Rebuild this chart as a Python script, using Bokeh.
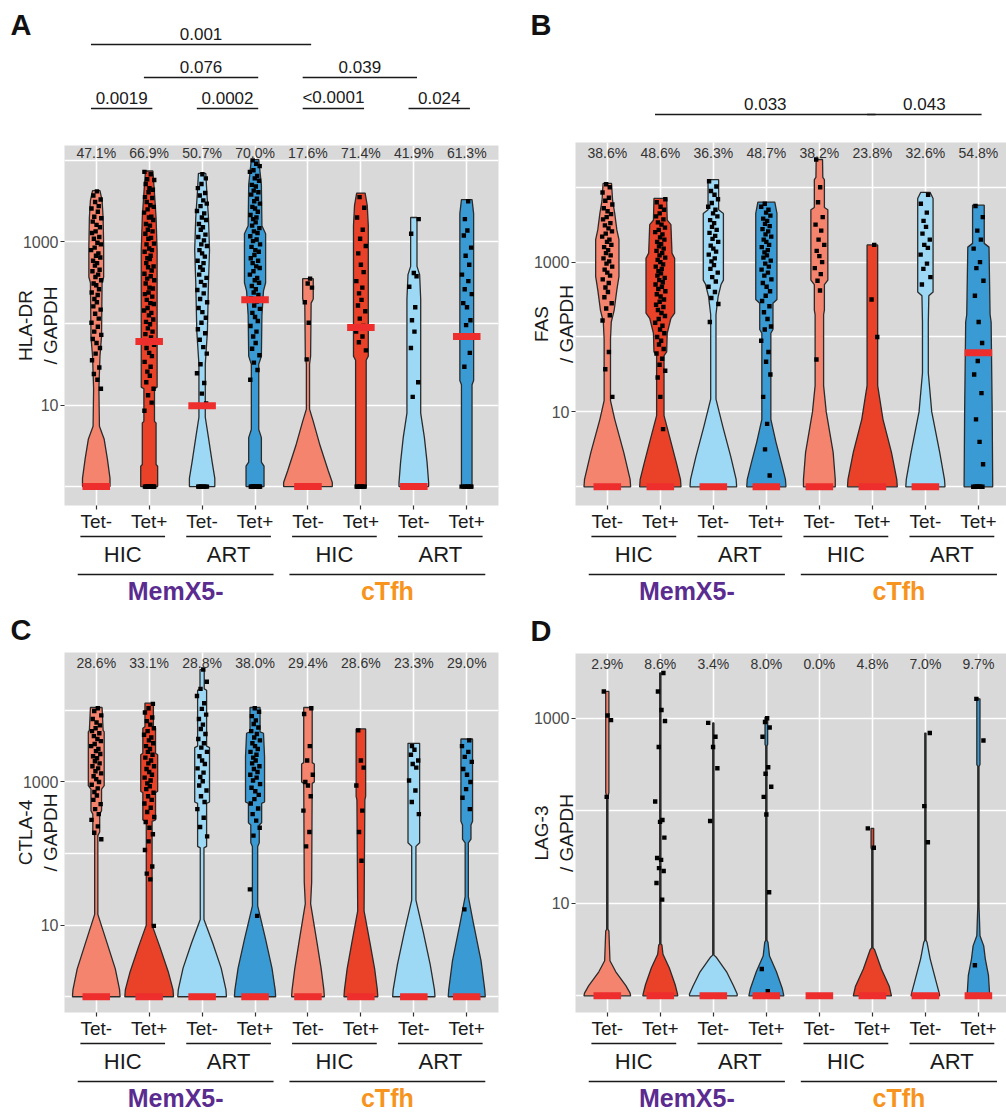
from bokeh.plotting import figure
from bokeh.layouts import column, row
from bokeh.models import Range1d, FixedTicker, PrintfTickFormatter
from bokeh.embed import file_html
from bokeh.resources import INLINE
from bokeh.core.properties import value

# ======================= DATA =======================
CATEGORIES = [1, 2, 3, 4, 5, 6, 7, 8]
TET_LABELS = ["Tet-", "Tet+", "Tet-", "Tet+", "Tet-", "Tet+", "Tet-", "Tet+"]
COHORT_LABELS = ["HIC", "ART", "HIC", "ART"]
COHORT_FIRST = [1, 3, 5, 7]
COHORT_LAST = [2, 4, 6, 8]
SUBSET_LABELS = ["MemX5-", "cTfh"]
SUBSET_FIRST = [1, 5]
SUBSET_LAST = [4, 8]
PANEL_LETTERS = ["A", "B", "C", "D"]
MARKERS = ["HLA-DR", "FAS", "CTLA-4", "LAG-3"]

# percentage of expressing cells per category
pct_hla = ["47.1%", "66.9%", "50.7%", "70.0%", "17.6%", "71.4%", "41.9%", "61.3%"]
pct_fas = ["38.6%", "48.6%", "36.3%", "48.7%", "38.2%", "23.8%", "32.6%", "54.8%"]
pct_ctla = ["28.6%", "33.1%", "28.8%", "38.0%", "29.4%", "28.6%", "23.3%", "29.0%"]
pct_lag = ["2.9%", "8.6%", "3.4%", "8.0%", "0.0%", "4.8%", "7.0%", "9.7%"]

# medians, log10(expression + 1)
med_hla = [0, 1.78, 0.99, 2.29, 0, 1.95, 0, 1.84]
med_fas = [0, 0, 0, 0, 0, 0, 0, 1.79]
med_ctla = [0, 0, 0, 0, 0, 0, 0, 0]
med_lag = [0, 0, 0, 0, 0, 0, 0, 0]

# violin outlines: levels (log10(expr+1)) and density half-widths (category units)
hla_levels = [
    [3.63, 3.51, 3.3, 2.94, 2.57, 2.5, 1.84, 1.6, 1.2, 0.74, 0.58, 0.34, 0.1, 0],
    [3.87, 3.6, 3.3, 2.9, 1.22, 1.2, 0.8, 0.78, 0.27, 0.25, 0],
    [3.84, 3.6, 3.3, 2.9, 2.5, 1.9, 1.5, 0.85, 0.6, 0.3, 0.1, 0],
    [4.01, 3.7, 3.2, 3.1, 2.5, 2.4, 2.1, 1.6, 1.5, 0.7, 0.6, 0.3, 0.25, 0],
    [2.55, 2.3, 2.25, 1.6, 1.5, 0.95, 0.8, 0.5, 0.2, 0.05, 0],
    [3.6, 3.45, 3.2, 1.6, 1.55, 0],
    [3.3, 2.7, 2.6, 2.3, 0.9, 0.6, 0.3, 0.05, 0],
    [3.52, 3.35, 1.3, 1.25, 0],
]
hla_widths = [
    [0.07, 0.11, 0.13, 0.14, 0.14, 0.11, 0.1, 0.07, 0.05, 0.06, 0.15, 0.21, 0.26, 0.26],
    [0.07, 0.1, 0.13, 0.15, 0.15, 0.1, 0.1, 0.13, 0.13, 0.16, 0.16],
    [0.07, 0.09, 0.12, 0.14, 0.12, 0.1, 0.06, 0.06, 0.12, 0.19, 0.24, 0.24],
    [0.07, 0.12, 0.13, 0.2, 0.2, 0.16, 0.13, 0.12, 0.07, 0.07, 0.12, 0.12, 0.17, 0.17],
    [0.1, 0.1, 0.06, 0.05, 0.03, 0.03, 0.1, 0.23, 0.38, 0.46, 0.46],
    [0.08, 0.12, 0.14, 0.14, 0.1, 0.1],
    [0.06, 0.06, 0.11, 0.13, 0.13, 0.2, 0.25, 0.28, 0.28],
    [0.1, 0.13, 0.13, 0.1, 0.1],
]
fas_levels = [
    [4.05, 3.82, 3.65, 3.43, 3.3, 2.81, 2.63, 2.36, 2.2, 1.97, 1.15, 0.9, 0.46, 0.1, 0],
    [3.85, 3.56, 3.5, 3.12, 3.05, 2.32, 2.25, 2.05, 1.8, 1.75, 0.95, 0.6, 0.3, 0.1, 0],
    [4.1, 3.7, 3.65, 2.76, 2.7, 2.54, 2.3, 1.17, 0.8, 0.4, 0.1, 0],
    [3.8, 3.65, 2.5, 2.45, 2.1, 2.05, 0.9, 0.6, 0.3, 0.1, 0],
    [4.37, 4.13, 4.1, 3.73, 3.7, 2.76, 2.7, 2.36, 2.3, 1.35, 1.0, 0.46, 0.1, 0],
    [3.23, 1.35, 0.9, 0.46, 0.1, 0],
    [3.93, 3.85, 2.6, 2.55, 2.2, 1.52, 1.0, 0.46, 0.1, 0],
    [3.76, 3.25, 3.2, 2.3, 2.2, 1.0, 0],
]
fas_widths = [
    [0.08, 0.1, 0.14, 0.18, 0.22, 0.22, 0.18, 0.13, 0.075, 0.06, 0.06, 0.14, 0.31, 0.43, 0.44],
    [0.12, 0.13, 0.2, 0.22, 0.27, 0.27, 0.2, 0.13, 0.12, 0.07, 0.07, 0.2, 0.31, 0.38, 0.39],
    [0.1, 0.1, 0.19, 0.19, 0.145, 0.09, 0.05, 0.05, 0.18, 0.33, 0.43, 0.44],
    [0.16, 0.2, 0.2, 0.125, 0.125, 0.085, 0.085, 0.18, 0.29, 0.36, 0.37],
    [0.06, 0.065, 0.095, 0.095, 0.16, 0.16, 0.095, 0.095, 0.08, 0.08, 0.13, 0.26, 0.3, 0.3],
    [0.1, 0.1, 0.2, 0.36, 0.46, 0.47],
    [0.09, 0.145, 0.145, 0.065, 0.055, 0.055, 0.12, 0.27, 0.36, 0.37],
    [0.11, 0.11, 0.2, 0.22, 0.24, 0.26, 0.27],
]
ctla_levels = [
    [4.04, 3.72, 3.7, 2.95, 2.9, 2.6, 2.55, 2.3, 2.25, 1.15, 0.76, 0.39, 0.1, 0],
    [4.1, 3.77, 3.75, 3.4, 3.38, 2.87, 2.85, 2.47, 2.45, 1.0, 0.7, 0.35, 0.1, 0],
    [4.57, 4.3, 4.28, 3.5, 3.48, 2.72, 2.7, 2.1, 2.08, 1.08, 0.75, 0.4, 0.1, 0],
    [4.04, 3.7, 3.68, 3.35, 2.72, 2.7, 2.43, 2.4, 2.15, 2.1, 1.27, 0.8, 0.4, 0.1, 0],
    [4.04, 3.27, 3.25, 3.0, 2.98, 1.6, 1.3, 0.76, 0.39, 0.1, 0],
    [3.74, 2.8, 2.75, 1.2, 0.76, 0.39, 0.1, 0],
    [3.54, 2.15, 2.1, 1.35, 0.9, 0.45, 0.1, 0],
    [3.6, 2.45, 2.4, 2.2, 2.15, 1.4, 1.05, 0.5, 0.1, 0],
]
ctla_widths = [
    [0.11, 0.13, 0.15, 0.15, 0.1, 0.1, 0.065, 0.065, 0.03, 0.03, 0.2, 0.36, 0.44, 0.45],
    [0.08, 0.08, 0.12, 0.12, 0.16, 0.16, 0.12, 0.12, 0.055, 0.055, 0.2, 0.36, 0.45, 0.46],
    [0.04, 0.04, 0.085, 0.085, 0.14, 0.14, 0.085, 0.085, 0.035, 0.035, 0.2, 0.36, 0.45, 0.46],
    [0.095, 0.095, 0.16, 0.18, 0.18, 0.125, 0.125, 0.08, 0.08, 0.05, 0.05, 0.2, 0.32, 0.38, 0.39],
    [0.08, 0.08, 0.12, 0.12, 0.08, 0.07, 0.05, 0.17, 0.25, 0.3, 0.31],
    [0.09, 0.09, 0.075, 0.06, 0.17, 0.26, 0.31, 0.32],
    [0.11, 0.11, 0.04, 0.04, 0.18, 0.31, 0.39, 0.4],
    [0.11, 0.11, 0.08, 0.08, 0.03, 0.03, 0.12, 0.27, 0.34, 0.35],
]
lag_levels = [
    [3.29, 2.2, 2.15, 0.72, 0.7, 0.38, 0.26, 0.11, 0.03, 0],
    [3.49, 0.56, 0.55, 0.45, 0.3, 0.12, 0.03, 0],
    [2.95, 0.44, 0.42, 0.26, 0.11, 0.02, 0],
    [3.01, 2.72, 2.7, 0.6, 0.58, 0.43, 0.26, 0.08, 0],
    [],
    [1.81, 1.6, 1.58, 0.52, 0.5, 0.29, 0.1, 0],
    [2.84, 0.6, 0.58, 0.4, 0.18, 0.03, 0],
    [3.21, 2.5, 2.48, 0.96, 0.65, 0.54, 0.4, 0.22, 0.03, 0],
]
lag_widths = [
    [0.03, 0.03, 0.012, 0.012, 0.03, 0.05, 0.16, 0.35, 0.43, 0.44],
    [0.012, 0.012, 0.03, 0.05, 0.17, 0.28, 0.32, 0.33],
    [0.012, 0.012, 0.05, 0.25, 0.38, 0.45, 0.45],
    [0.025, 0.025, 0.012, 0.012, 0.03, 0.06, 0.19, 0.3, 0.33],
    [],
    [0.025, 0.025, 0.012, 0.012, 0.04, 0.17, 0.32, 0.36],
    [0.012, 0.012, 0.03, 0.09, 0.19, 0.26, 0.27],
    [0.03, 0.03, 0.012, 0.012, 0.03, 0.1, 0.13, 0.19, 0.21, 0.21],
]

# single cells, log10(expr + 1)
hla_points = [
    [3.62, 3.57, 3.52, 3.49, 3.44, 3.41, 3.37, 3.31, 3.29, 3.25, 3.21, 3.18, 3.13, 3.11, 3.06, 3.04,
     2.99, 2.97, 2.93, 2.9, 2.86, 2.83, 2.81, 2.77, 2.74, 2.71, 2.66, 2.64, 2.6, 2.57, 2.53, 2.49,
     2.47, 2.42, 2.38, 2.35, 2.3, 2.26, 2.21, 2.17, 2.12, 2.06, 2.01, 1.96, 1.9, 1.86, 1.81, 1.76,
     1.7, 1.63, 1.55, 1.46, 1.38, 1.31, 1.2, 0, 0, 0, 0, 0, 0],
    [3.86, 3.83, 3.77, 3.76, 3.71, 3.66, 3.64, 3.61, 3.55, 3.54, 3.49, 3.45, 3.43, 3.4, 3.36, 3.31,
     3.3, 3.27, 3.22, 3.2, 3.15, 3.13, 3.1, 3.05, 3.04, 2.98, 2.97, 2.92, 2.9, 2.88, 2.83, 2.8,
     2.79, 2.74, 2.7, 2.69, 2.65, 2.61, 2.58, 2.55, 2.53, 2.49, 2.44, 2.43, 2.38, 2.36, 2.33, 2.29,
     2.25, 2.24, 2.19, 2.16, 2.13, 2.1, 2.05, 2.02, 1.99, 1.94, 1.9, 1.87, 1.83, 1.78, 1.74, 1.7,
     1.64, 1.6, 1.53, 1.47, 1.41, 1.36, 1.28, 1.2, 1.12, 1.03, 0.93,
     0, 0, 0, 0, 0, 0, 0, 0, 0, 0, 0, 0],
    [3.83, 3.78, 3.71, 3.66, 3.6, 3.57, 3.51, 3.47, 3.44, 3.38, 3.35, 3.3, 3.27, 3.22, 3.18, 3.15,
     3.09, 3.06, 3.02, 2.97, 2.95, 2.9, 2.86, 2.82, 2.77, 2.74, 2.69, 2.66, 2.6, 2.56, 2.51, 2.47,
     2.41, 2.37, 2.3, 2.26, 2.19, 2.14, 2.07, 2.01, 1.93, 1.88, 1.8, 1.71, 1.63, 1.5, 1.39, 1.27,
     1.14, 1.02, 0, 0, 0, 0, 0, 0, 0, 0],
    [4.0, 3.96, 3.93, 3.88, 3.86, 3.81, 3.78, 3.75, 3.7, 3.68, 3.63, 3.61, 3.58, 3.53, 3.5, 3.47,
     3.43, 3.41, 3.37, 3.33, 3.3, 3.28, 3.24, 3.2, 3.17, 3.13, 3.11, 3.07, 3.03, 3.01, 2.97, 2.94,
     2.9, 2.88, 2.84, 2.8, 2.77, 2.74, 2.7, 2.68, 2.64, 2.6, 2.56, 2.53, 2.5, 2.46, 2.42, 2.38,
     2.35, 2.31, 2.27, 2.22, 2.18, 2.13, 2.08, 2.03, 1.97, 1.9, 1.84, 1.76, 1.69, 1.61, 1.52, 1.43,
     1.31, 0, 0, 0, 0, 0, 0, 0, 0, 0, 0, 0, 0],
    [2.55, 2.49, 2.44, 2.26, 2.01, 1.56, 0, 0],
    [3.55, 3.42, 3.3, 3.15, 3.04, 2.95, 2.86, 2.72, 2.63, 2.52, 2.44, 2.37, 2.29, 2.22, 2.15, 2.06,
     1.97, 1.9, 1.84, 1.77, 1.67, 0, 0, 0, 0, 0, 0, 0, 0],
    [3.28, 3.1, 2.62, 2.58, 2.45, 2.2, 2.04, 1.9, 1.7, 1.28, 1.1, 0, 0, 0, 0, 0, 0],
    [3.5, 3.28, 3.14, 3.08, 2.93, 2.83, 2.72, 2.6, 2.52, 2.42, 2.36, 2.25, 2.2, 2.04, 1.98, 1.85,
     1.64, 1.47, 0, 0, 0, 0, 0, 0, 0, 0],
]
fas_points = [
    [4.04, 4.0, 3.93, 3.86, 3.82, 3.77, 3.72, 3.68, 3.64, 3.6, 3.57, 3.52, 3.49, 3.45, 3.41, 3.38,
     3.34, 3.3, 3.27, 3.23, 3.2, 3.16, 3.12, 3.09, 3.05, 3.01, 2.98, 2.94, 2.9, 2.86, 2.82, 2.77,
     2.72, 2.66, 2.6, 2.53, 2.45, 2.38, 2.29, 2.22, 1.8, 1.57, 1.2, 0, 0, 0, 0, 0],
    [3.84, 3.8, 3.74, 3.7, 3.65, 3.61, 3.57, 3.53, 3.5, 3.46, 3.43, 3.4, 3.37, 3.33, 3.3, 3.27,
     3.24, 3.21, 3.18, 3.15, 3.12, 3.09, 3.06, 3.03, 3.0, 2.97, 2.94, 2.91, 2.88, 2.85, 2.82, 2.79,
     2.76, 2.73, 2.7, 2.67, 2.64, 2.61, 2.57, 2.54, 2.5, 2.47, 2.43, 2.4, 2.36, 2.32, 2.28, 2.24,
     2.19, 2.15, 2.1, 2.05, 2.0, 1.95, 1.9, 1.84, 1.78, 1.71, 1.63, 1.55, 1.46, 1.2, 0.77,
     0, 0, 0, 0, 0, 0],
    [4.08, 4.01, 3.95, 3.9, 3.84, 3.79, 3.74, 3.7, 3.65, 3.61, 3.56, 3.52, 3.47, 3.43, 3.39, 3.35,
     3.31, 3.27, 3.22, 3.18, 3.14, 3.1, 3.05, 3.01, 2.96, 2.91, 2.86, 2.8, 2.74, 2.67, 2.6, 2.52,
     2.44, 2.2, 0, 0, 0, 0, 0],
    [3.78, 3.74, 3.7, 3.66, 3.62, 3.58, 3.55, 3.51, 3.48, 3.44, 3.41, 3.37, 3.34, 3.3, 3.27, 3.23,
     3.2, 3.16, 3.13, 3.09, 3.06, 3.02, 2.98, 2.94, 2.9, 2.86, 2.82, 2.77, 2.72, 2.67, 2.61, 2.55,
     2.48, 2.41, 2.33, 2.24, 2.14, 2.1, 1.95, 1.8, 1.67, 1.5, 1.2, 0.84, 0.5, 0.15,
     0, 0, 0, 0, 0, 0, 0, 0],
    [4.37, 4.0, 3.8, 3.6, 3.5, 3.42, 3.3, 3.23, 3.15, 3.08, 3.0, 2.92, 2.84, 2.75, 2.62, 1.7,
     0, 0, 0, 0],
    [3.23, 2.5, 2.0, 0, 0, 0, 0],
    [3.9, 3.78, 3.66, 3.55, 3.47, 3.38, 3.3, 3.23, 3.19, 3.1, 2.98, 2.91, 2.8, 2.7, 0, 0, 0, 0],
    [3.75, 3.6, 3.42, 3.3, 3.18, 3.0, 2.92, 2.75, 2.55, 2.2, 1.92, 1.68, 1.5, 1.25, 0.9, 0.6, 0.3,
     0, 0, 0, 0, 0, 0, 0, 0],
]
ctla_points = [
    [4.03, 3.99, 3.93, 3.88, 3.83, 3.79, 3.75, 3.71, 3.68, 3.64, 3.6, 3.57, 3.53, 3.5, 3.46, 3.43,
     3.39, 3.36, 3.33, 3.29, 3.26, 3.22, 3.19, 3.15, 3.12, 3.08, 3.04, 3.0, 2.96, 2.91, 2.86, 2.81,
     2.75, 2.69, 2.62, 2.55, 2.47, 2.38, 2.29, 2.2, 0, 0, 0, 0, 0],
    [4.09, 4.03, 3.97, 3.9, 3.85, 3.8, 3.75, 3.71, 3.66, 3.62, 3.58, 3.54, 3.5, 3.46, 3.42, 3.38,
     3.34, 3.3, 3.26, 3.22, 3.18, 3.14, 3.1, 3.06, 3.02, 2.98, 2.94, 2.9, 2.85, 2.8, 2.75, 2.7,
     2.64, 2.58, 2.51, 2.44, 2.36, 2.27, 2.17, 2.05, 1.82, 1.72, 1.64, 0.99, 0, 0, 0, 0, 0, 0],
    [4.57, 4.4, 4.3, 4.2, 4.1, 4.02, 3.94, 3.88, 3.8, 3.74, 3.67, 3.6, 3.54, 3.48, 3.42, 3.36,
     3.3, 3.25, 3.19, 3.13, 3.07, 3.01, 2.95, 2.88, 2.8, 2.72, 2.62, 2.5, 2.37, 2.24, 0, 0, 0, 0, 0],
    [4.03, 3.98, 3.92, 3.86, 3.81, 3.76, 3.71, 3.67, 3.62, 3.58, 3.54, 3.5, 3.46, 3.42, 3.38, 3.34,
     3.3, 3.26, 3.22, 3.18, 3.14, 3.1, 3.06, 3.02, 2.97, 2.92, 2.87, 2.82, 2.76, 2.7, 2.63, 2.55,
     2.46, 2.36, 2.25, 1.5, 1.13, 0, 0, 0, 0, 0, 0],
    [4.03, 3.95, 3.5, 3.3, 3.1, 3.0, 2.95, 2.8, 2.6, 2.3, 2.1, 0, 0, 0, 0],
    [3.72, 3.3, 3.2, 2.95, 2.6, 2.3, 1.9, 0, 0, 0],
    [3.5, 3.45, 3.38, 3.3, 3.25, 3.2, 3.02, 2.88, 2.72, 2.55, 0, 0, 0],
    [3.58, 3.5, 3.42, 3.35, 3.28, 3.18, 3.1, 3.0, 2.9, 2.78, 2.62, 1.22, 0, 0, 0],
]
lag_points = [
    [3.29, 3.03, 2.98, 2.15, 0, 0, 0, 0],
    [3.49, 3.29, 3.09, 2.97, 2.69, 2.1, 1.9, 1.88, 1.71, 1.49, 1.47, 1.38, 1.35, 1.22, 1.04,
     0, 0, 0, 0],
    [2.95, 2.8, 2.69, 2.46, 1.89, 0, 0, 0],
    [3.0, 2.96, 2.9, 2.8, 2.47, 2.4, 2.26, 2.15, 1.96, 1.12, 0.29, 0.05, 0, 0, 0],
    [0, 0, 0],
    [1.81, 1.6, 0, 0, 0],
    [2.84, 2.05, 1.66, 0, 0, 0],
    [3.21, 2.76, 0.33, 0, 0, 0],
]

# pairwise comparisons: (category i, category j, p-value label, tier)
cmp_hla = [(1, 5, "0.001", 3), (2, 4, "0.076", 2), (5, 7, "0.039", 2),
           (1, 2, "0.0019", 1), (3, 4, "0.0002", 1), (5, 6, "<0.0001", 1), (7, 8, "0.024", 1)]
cmp_fas = [(2, 6, "0.033", 1), (6, 8, "0.043", 1)]
cmp_ctla = []
cmp_lag = []

PANEL_DATA = [
    (pct_hla, med_hla, hla_levels, hla_widths, hla_points, cmp_hla),
    (pct_fas, med_fas, fas_levels, fas_widths, fas_points, cmp_fas),
    (pct_ctla, med_ctla, ctla_levels, ctla_widths, ctla_points, cmp_ctla),
    (pct_lag, med_lag, lag_levels, lag_widths, lag_points, cmp_lag),
]

# ======================= STYLE / LAYOUT =======================
FONT = "Liberation Sans"
FILLS = ["#f4846e", "#ea4129", "#9dd8f5", "#3a9ad4"] * 2
OUTLINE = "#2b2b2b"
MED_COLOR = "#ee2d2d"
PANEL_BG = "#d9d9d9"
SUBSET_COLORS = ["#5b2c8f", "#f7941d"]
JITTER = [0.12, -0.55, 0.83, -0.21, 0.47, -0.9, 0.3, -0.38, 0.95, -0.66, 0.05, 0.7, -0.12,
          -0.8, 0.58, -0.45, 0.22, 0.88, -0.3, -0.97, 0.4, -0.05, 0.76, -0.6, 0.15, -0.25,
          0.63, -0.72, 0.35, -0.15, 0.92, -0.5, 0.0, 0.52, -0.86, 0.27, -0.35]
JIT_AMP = 0.1
X_START = 0.4
AXIS_H = 27

PANEL_CFG = [
    dict(col_w=500, left=64, frame_w=434, x_end=8.6, top_h=145, frame_h=362,
         ylo=-0.232, yhi=4.183, group_h=76, pct_off=7, tiers={1: 108, 2: 77, 3: 44},
         ylab_standoff=-41, letter_gap=27, letter_y=24),
    dict(col_w=506, left=75, frame_w=431, x_end=8.53, top_h=142, frame_h=365,
         ylo=-0.25, yhi=4.597, group_h=76, pct_off=10, tiers={1: 114},
         ylab_standoff=-46, letter_gap=18, letter_y=24),
    dict(col_w=500, left=64, frame_w=434, x_end=8.6, top_h=42, frame_h=362,
         ylo=-0.22, yhi=4.808, group_h=71, pct_off=10, tiers={},
         ylab_standoff=-41, letter_gap=27, letter_y=19),
    dict(col_w=506, left=75, frame_w=431, x_end=8.53, top_h=43, frame_h=361,
         ylo=-0.18, yhi=3.70, group_h=71, pct_off=10, tiers={},
         ylab_standoff=-46, letter_gap=18, letter_y=20),
]


def bare_fig(w, h, xr, yr, left=0, right=0, yaxis=None):
    f = figure(width=w, height=h, x_range=xr, y_range=yr, toolbar_location=None,
               output_backend="svg", x_axis_location=None, y_axis_location=yaxis,
               min_border_left=left, min_border_right=right,
               min_border_top=0, min_border_bottom=0)
    f.grid.visible = False
    f.outline_line_color = None
    f.background_fill_color = "white"
    f.border_fill_color = "white"
    return f


def make_panel(k):
    cfg = PANEL_CFG[k]
    pct, med, levels, widths, points, cmps = PANEL_DATA[k]
    right = cfg["col_w"] - cfg["left"] - cfg["frame_w"]
    xr = Range1d(X_START, cfg["x_end"])

    # ---------- top strip: panel letter (as the strip's single axis label) + brackets ----------
    top = bare_fig(cfg["col_w"], cfg["top_h"], xr, Range1d(cfg["top_h"], 0),
                   left=cfg["left"], right=right, yaxis="left")
    lax = top.yaxis[0]
    lax.ticker = FixedTicker(ticks=[cfg["letter_y"]])
    lax.major_label_overrides = {cfg["letter_y"]: PANEL_LETTERS[k]}
    lax.axis_line_color = None
    lax.major_tick_line_color = None
    lax.minor_tick_line_color = None
    lax.major_label_standoff = cfg["letter_gap"]
    lax.major_label_text_font = FONT
    lax.major_label_text_font_size = "29px"
    lax.major_label_text_font_style = "bold"
    lax.major_label_text_color = "#111111"
    if cmps:
        x0 = [c[0] - 0.1 for c in cmps]
        x1 = [c[1] + 0.06 for c in cmps]
        yl = [cfg["tiers"][c[3]] for c in cmps]
        top.segment(x0=x0, y0=yl, x1=x1, y1=yl, line_color="#1a1a1a", line_width=1.4)
        top.text(x=[(a + b) / 2 for a, b in zip(x0, x1)], y=[v - 11 for v in yl],
                 text=[c[2] for c in cmps], text_font=value(FONT), text_font_size="17px",
                 text_align="center", text_baseline="middle", text_color="#1a1a1a")

    # ---------- main violin panel ----------
    p = figure(width=cfg["col_w"], height=cfg["frame_h"] + AXIS_H, x_range=xr,
               y_range=Range1d(10 ** cfg["ylo"], 10 ** cfg["yhi"]), y_axis_type="log",
               toolbar_location=None, output_backend="svg",
               min_border_left=cfg["left"], min_border_right=right,
               min_border_top=0, min_border_bottom=AXIS_H)
    p.background_fill_color = PANEL_BG
    p.border_fill_color = "white"
    p.outline_line_color = None

    yt = FixedTicker(ticks=[10, 1000], minor_ticks=[1, 100, 10000])
    p.yaxis.ticker = yt
    p.ygrid.ticker = yt
    p.yaxis.formatter = PrintfTickFormatter(format="%d")
    p.ygrid.grid_line_color = "white"
    p.ygrid.grid_line_width = 1.6
    p.ygrid.minor_grid_line_color = "white"
    p.ygrid.minor_grid_line_width = 1.6
    p.xaxis.ticker = FixedTicker(ticks=CATEGORIES)
    p.xgrid.ticker = FixedTicker(ticks=CATEGORIES)
    p.xgrid.grid_line_color = "white"
    p.xgrid.grid_line_width = 1.6
    p.xaxis.major_label_overrides = {c: t for c, t in zip(CATEGORIES, TET_LABELS)}

    for ax in (p.xaxis[0], p.yaxis[0]):
        ax.axis_line_color = None
        ax.major_tick_line_color = "#333333"
        ax.major_tick_line_width = 1.2
        ax.major_tick_out = 4
        ax.major_tick_in = 0
        ax.minor_tick_line_color = None
        ax.major_label_text_font = FONT
    p.xaxis.major_label_text_font_size = "19px"
    p.xaxis.major_label_text_color = "#1a1a1a"
    p.xaxis.major_label_standoff = 1
    p.yaxis.major_label_text_font_size = "16px"
    p.yaxis.major_label_text_color = "#4d4d4d"
    p.yaxis.major_label_standoff = 2
    p.yaxis.axis_label = MARKERS[k] + "\n/ GAPDH"
    p.yaxis.axis_label_text_font = FONT
    p.yaxis.axis_label_text_font_size = "19px"
    p.yaxis.axis_label_text_font_style = "normal"
    p.yaxis.axis_label_text_color = "#1a1a1a"
    p.yaxis.axis_label_standoff = cfg["ylab_standoff"]

    # violins
    vx, vy, vc = [], [], []
    for i, c in enumerate(CATEGORIES):
        lv, hw = levels[i], widths[i]
        if not lv:
            continue
        up_l = list(reversed(lv))
        up_w = list(reversed(hw))
        xs = [c - w for w in up_w] + [c + w for w in reversed(up_w)]
        ys = [10 ** v for v in up_l] + [10 ** v for v in reversed(up_l)]
        vx.append(xs)
        vy.append(ys)
        vc.append(FILLS[i])
    p.patches(vx, vy, fill_color=vc, line_color=OUTLINE, line_width=1.3)

    # jittered cells
    px, py = [], []
    for i, c in enumerate(CATEGORIES):
        for j, v in enumerate(points[i]):
            px.append(c + JIT_AMP * JITTER[(j + 5 * i + 3 * k) % len(JITTER)])
            py.append(10 ** v)
    p.scatter(px, py, marker="square", size=4.4, fill_color="black", line_color=None)

    # medians
    p.rect(x=CATEGORIES, y=[10 ** m for m in med], width=0.52, height=7,
           height_units="screen", fill_color=MED_COLOR, line_color=None)

    # percentages
    p.text(x=CATEGORIES, y=[10 ** cfg["yhi"]] * 8, text=pct, y_offset=cfg["pct_off"],
           text_font=value(FONT), text_font_size="14px", text_align="center",
           text_baseline="middle", text_color="#333333")

    # ---------- group labels below ----------
    gh = cfg["group_h"]
    g = bare_fig(cfg["col_w"], gh, xr, Range1d(gh, 0), left=cfg["left"], right=right)
    g.segment(x0=[a - 0.3 for a in COHORT_FIRST], y0=[2] * 4,
              x1=[b + 0.3 for b in COHORT_LAST], y1=[2] * 4,
              line_color="#1a1a1a", line_width=1.4)
    g.text(x=[(a + b) / 2 for a, b in zip(COHORT_FIRST, COHORT_LAST)], y=[20] * 4,
           text=COHORT_LABELS, text_font=value(FONT), text_font_size="22px",
           text_align="center", text_baseline="middle", text_color="#1a1a1a")
    g.segment(x0=[a - 0.35 for a in SUBSET_FIRST], y0=[40] * 2,
              x1=[b + 0.35 for b in SUBSET_LAST], y1=[40] * 2,
              line_color="#1a1a1a", line_width=1.4)
    g.text(x=[(a + b) / 2 for a, b in zip(SUBSET_FIRST, SUBSET_LAST)], y=[56] * 2,
           text=SUBSET_LABELS, text_font=value(FONT), text_font_size="25px",
           text_font_style="bold", text_align="center", text_baseline="middle",
           text_color=SUBSET_COLORS)

    return column(top, p, g, spacing=0)


layout = column(row(make_panel(0), make_panel(1), spacing=0),
                row(make_panel(2), make_panel(3), spacing=0), spacing=0)

open("out.html", "w").write(file_html(layout, INLINE))
